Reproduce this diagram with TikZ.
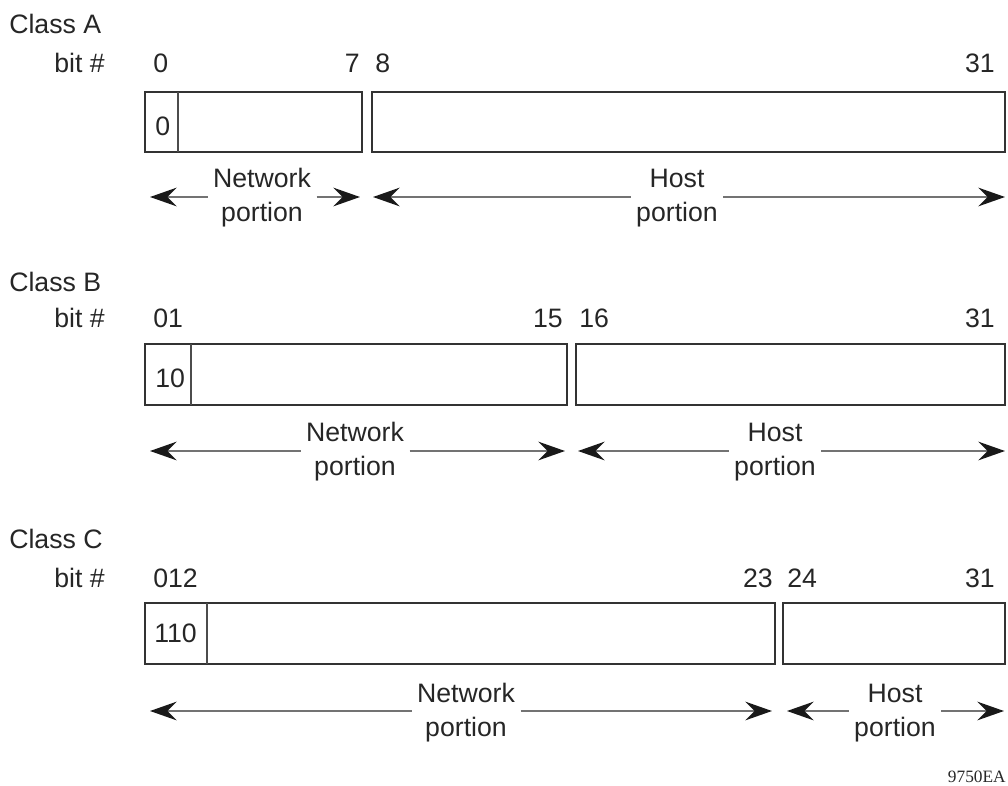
\documentclass[tikz,border=0pt]{standalone}
\usepackage{fontspec}
\setmainfont{Liberation Sans}
\newfontfamily\serifcode{Liberation Serif}
\usetikzlibrary{arrows.meta,fit}
\begin{document}
\begin{tikzpicture}[x=0.75pt,y=-0.75pt,
  txt/.style={font=\fontsize{20}{25.5}\selectfont, text=black!85, inner sep=0pt},
  field/.style={draw=black!80, line width=2.2pt, inner sep=0pt},
  divider/.style={draw=black!70, line width=1.1pt},
  portion/.style={txt, align=center, inner sep=4pt},
  span/.style={draw=black!55, line width=1.5pt, -{Stealth[length=20pt,width=14pt,inset=7pt,color=black!90]}},
]
\useasboundingbox (0,0) rectangle (1008,786);

% ---------- Class A ----------
\node[txt,anchor=base west] (classA) at (9,33) {Class A};
\node[txt,anchor=base west] (bitA) at (54,72) {bit \#};
\node[txt,anchor=base west] (a0) at (153,72) {0};
\node[txt,anchor=base east] (a7) at (360,72) {7};
\node[txt,anchor=base west] (a8) at (375,72) {8};
\node[txt,anchor=base east] (a31) at (995,72) {31};
\node[field, fit={(145,92) (362,152)}] (anet) {};
\node[field, fit={(372,92) (1005,152)}] (ahost) {};
\draw[divider] (178,92) -- (178,152);
\node[txt,anchor=base west] (apre) at (155,135) {0};
\node[portion] (anetl) at (262,198) {Network\\portion};
\node[portion] (ahostl) at (677,198) {Host\\portion};
\coordinate (anetL) at (150,197);
\coordinate (anetR) at (360,197);
\coordinate (ahostL) at (373,197);
\coordinate (ahostR) at (1005,197);
\draw[span] (anetl.west |- anetL) -- (anetL);
\draw[span] (anetl.east |- anetR) -- (anetR);
\draw[span] (ahostl.west |- ahostL) -- (ahostL);
\draw[span] (ahostl.east |- ahostR) -- (ahostR);

% ---------- Class B ----------
\node[txt,anchor=base west] (classB) at (9,291) {Class B};
\node[txt,anchor=base west] (bitB) at (54,327) {bit \#};
\node[txt,anchor=base west] (b01) at (153,327) {01};
\node[txt,anchor=base east] (b15) at (563,327) {15};
\node[txt,anchor=base west] (b16) at (579,327) {16};
\node[txt,anchor=base east] (b31) at (995,327) {31};
\node[field, fit={(145,344) (567,405)}] (bnet) {};
\node[field, fit={(576,344) (1005,405)}] (bhost) {};
\draw[divider] (191,344) -- (191,405);
\node[txt,anchor=base west] (bpre) at (155,387) {10};
\node[portion] (bnetl) at (355,452) {Network\\portion};
\node[portion] (bhostl) at (775,452) {Host\\portion};
\coordinate (bnetL) at (150,451);
\coordinate (bnetR) at (565,451);
\coordinate (bhostL) at (578,451);
\coordinate (bhostR) at (1005,451);
\draw[span] (bnetl.west |- bnetL) -- (bnetL);
\draw[span] (bnetl.east |- bnetR) -- (bnetR);
\draw[span] (bhostl.west |- bhostL) -- (bhostL);
\draw[span] (bhostl.east |- bhostR) -- (bhostR);

% ---------- Class C ----------
\node[txt,anchor=base west] (classC) at (9,548) {Class C};
\node[txt,anchor=base west] (bitC) at (54,587) {bit \#};
\node[txt,anchor=base west] (c012) at (153,587) {012};
\node[txt,anchor=base east] (c23) at (773,587) {23};
\node[txt,anchor=base west] (c24) at (787,587) {24};
\node[txt,anchor=base east] (c31) at (995,587) {31};
\node[field, fit={(145,603) (775,664)}] (cnet) {};
\node[field, fit={(783,603) (1005,664)}] (chost) {};
\draw[divider] (207,603) -- (207,664);
\node[txt,anchor=base west] (cpre) at (154,642) {110};
\node[portion] (cnetl) at (466,713) {Network\\portion};
\node[portion] (chostl) at (895,713) {Host\\portion};
\coordinate (cnetL) at (150,711);
\coordinate (cnetR) at (772,711);
\coordinate (chostL) at (787,711);
\coordinate (chostR) at (1004,711);
\draw[span] (cnetl.west |- cnetL) -- (cnetL);
\draw[span] (cnetl.east |- cnetR) -- (cnetR);
\draw[span] (chostl.west |- chostL) -- (chostL);
\draw[span] (chostl.east |- chostR) -- (chostR);

\node[font=\serifcode\fontsize{13}{15}\selectfont, text=black!85, anchor=base east, inner sep=0pt] (code) at (1006,782) {9750EA};
\end{tikzpicture}
\end{document}
